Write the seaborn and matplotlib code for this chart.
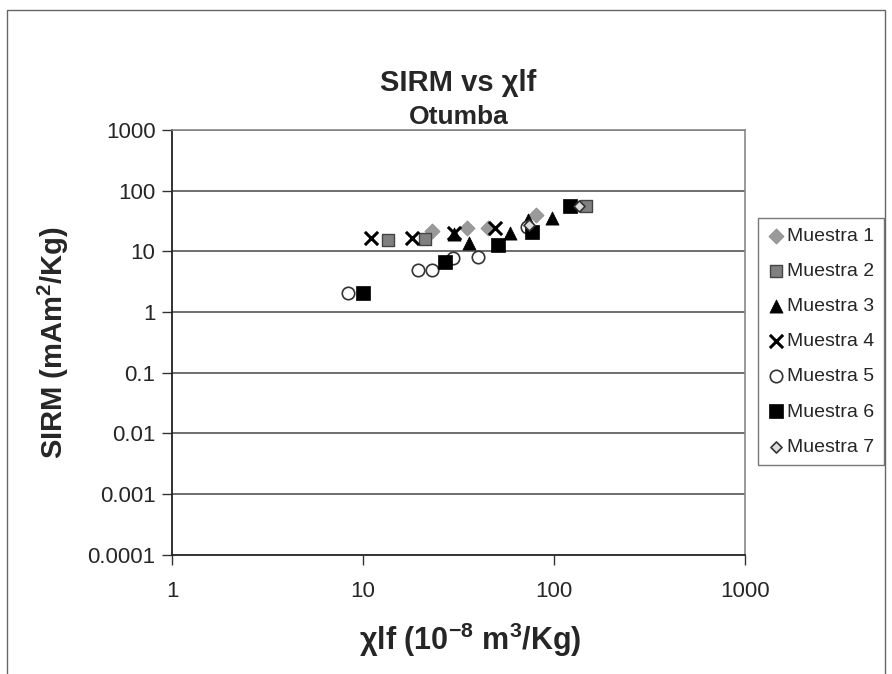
import matplotlib
matplotlib.use("Agg")
import matplotlib.pyplot as plt
import seaborn as sns
import pandas as pd
from matplotlib.patches import Rectangle
from matplotlib.ticker import FixedLocator, NullLocator

# datos
m1_x = [23, 35, 45, 81]
m1_y = [22, 24, 24, 40]
m2_x = [13.5, 21, 148]
m2_y = [15.5, 16, 56]
m3_x = [30, 36, 59, 73, 98]
m3_y = [19, 14, 20, 33, 36]
m4_x = [11, 18, 30, 49]
m4_y = [16.5, 16.5, 20, 24]
m5_x = [8.3, 19.5, 23, 29.5, 40, 72]
m5_y = [2.1, 4.9, 4.9, 7.8, 8, 25]
m6_x = [10, 27, 51, 77, 121]
m6_y = [2.05, 6.6, 12.7, 21, 56]
m7_x = [74, 135]
m7_y = [27, 56]

x_ticks = [1, 10, 100, 1000]
y_ticks = [0.0001, 0.001, 0.01, 0.1, 1, 10, 100, 1000]
y_labels = ["0.0001", "0.001", "0.01", "0.1", "1", "10", "100", "1000"]

series = [
    ("Muestra 1", m1_x, m1_y, dict(marker="D", s=60, color="#9a9a9a", edgecolor="#8a8a8a", linewidth=0.5)),
    ("Muestra 2", m2_x, m2_y, dict(marker="s", s=80, color="#808080", edgecolor="#444444", linewidth=1.0)),
    ("Muestra 3", m3_x, m3_y, dict(marker="^", s=90, color="black", edgecolor="black", linewidth=0.5)),
    ("Muestra 4", m4_x, m4_y, dict(marker="x", s=90, color="black", linewidth=2.2)),
    ("Muestra 5", m5_x, m5_y, dict(marker="o", s=80, color="white", edgecolor="#333333", linewidth=1.2)),
    ("Muestra 6", m6_x, m6_y, dict(marker="s", s=100, color="black", edgecolor="black", linewidth=0.5)),
    ("Muestra 7", m7_x, m7_y, dict(marker="D", s=32, color="#dddddd", edgecolor="#333333", linewidth=1.2)),
]

sns.set_style("white")
plt.rcParams["font.family"] = ["Liberation Sans", "DejaVu Sans"]
plt.rcParams["mathtext.default"] = "regular"

fig = plt.figure(figsize=(8.92, 6.74), dpi=100)
ax = fig.add_axes([0.193, 0.177, 0.642, 0.630])

for name, xs, ys, kw in series:
    df = pd.DataFrame({"x": xs, "y": ys})
    sns.scatterplot(data=df, x="x", y="y", ax=ax, label=name, zorder=3, **kw)

ax.set_xscale("log")
ax.set_yscale("log")
ax.set_xlim(1, 1000)
ax.set_ylim(0.0001, 1000)
ax.xaxis.set_major_locator(FixedLocator(x_ticks))
ax.xaxis.set_minor_locator(NullLocator())
ax.yaxis.set_major_locator(FixedLocator(y_ticks))
ax.yaxis.set_minor_locator(NullLocator())
ax.set_xticklabels([str(t) for t in x_ticks])
ax.set_yticklabels(y_labels)
ax.tick_params(axis="both", labelsize=16, length=7, width=1, color="#333333",
               direction="out", bottom=True, left=True)
ax.tick_params(axis="x", pad=12)
ax.tick_params(axis="y", pad=5)

ax.grid(False)
for t in y_ticks[1:]:
    ax.axhline(t, color="#555555", linewidth=1.2, zorder=1)

for side in ["top", "right"]:
    ax.spines[side].set_visible(True)
    ax.spines[side].set_color("#888888")
    ax.spines[side].set_linewidth(1.2)
ax.spines["left"].set_color("#222222")
ax.spines["bottom"].set_color("#222222")
ax.spines["left"].set_linewidth(1.3)
ax.spines["bottom"].set_linewidth(1.3)

ax.set_xlabel("χlf (10$^{-8}$ m$^{3}$/Kg)", fontsize=22, fontweight="bold", labelpad=12)
ax.xaxis.set_label_coords(0.52, -0.155)
ax.set_ylabel("SIRM (mAm$^{2}$/Kg)", fontsize=21, fontweight="bold", labelpad=12)

fig.text(0.514, 0.877, "SIRM vs χlf", ha="center", va="center", fontsize=21, fontweight="bold")
fig.text(0.514, 0.826, "Otumba", ha="center", va="center", fontsize=19, fontweight="bold")

leg = ax.legend(loc="upper left", bbox_to_anchor=(0.850, 0.677), bbox_transform=fig.transFigure,
                frameon=True, fontsize=14, handletextpad=0.2, borderpad=0.5,
                labelspacing=0.9, handlelength=0.8, borderaxespad=0)
leg.get_frame().set_edgecolor("#555555")
leg.get_frame().set_linewidth(1.0)
leg.get_frame().set_boxstyle("square", pad=0)

fig.patches.append(Rectangle((0.008, -0.01), 0.984, 0.995, transform=fig.transFigure,
                             fill=False, edgecolor="#666666", linewidth=1.0))

fig.savefig("out.png", dpi=100)
